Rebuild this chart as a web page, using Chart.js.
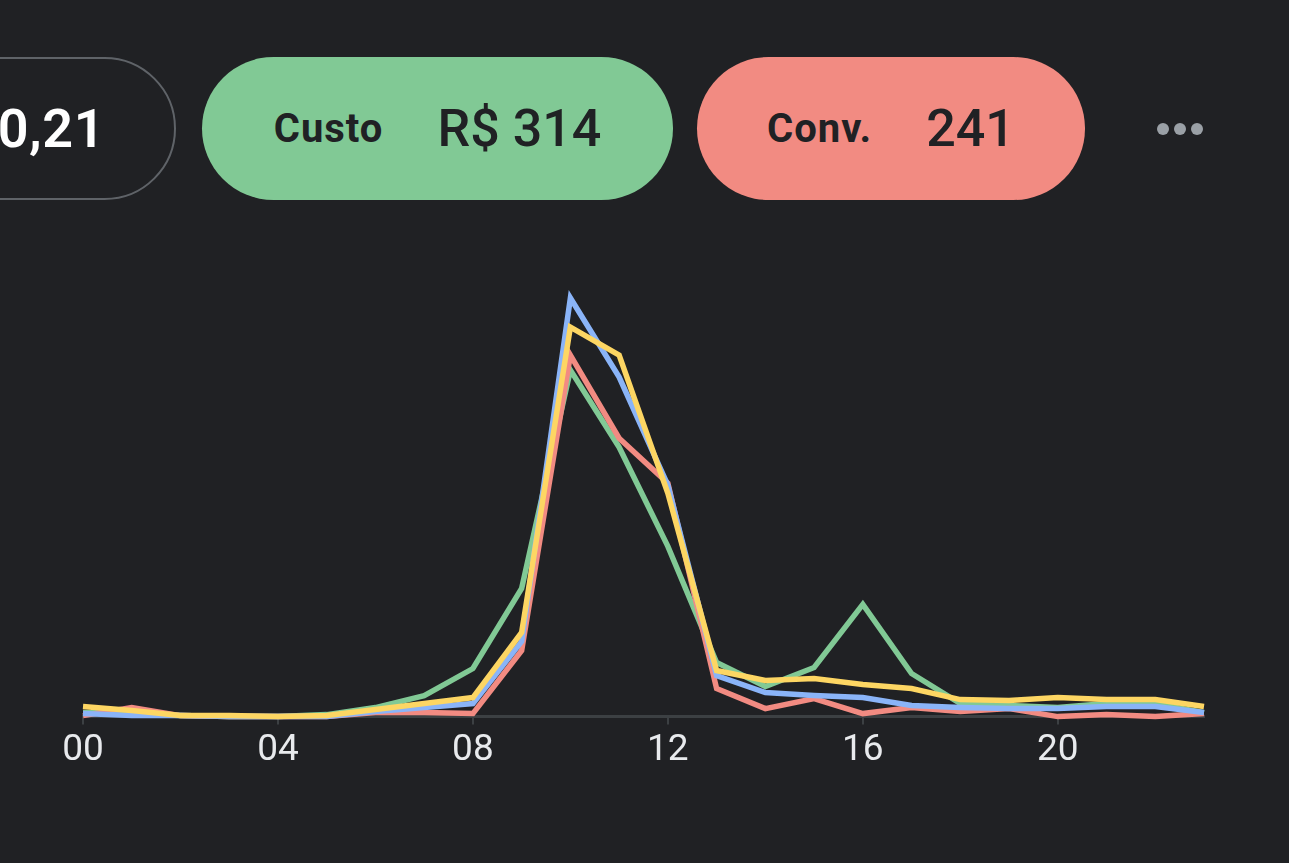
<!DOCTYPE html>
<html>
<head>
<meta charset="utf-8">
<script src="https://cdn.jsdelivr.net/npm/chart.js@4.4.1/dist/chart.umd.min.js"></script>
<style>
  html, body { margin: 0; padding: 0; background: #202124; width: 1289px; height: 863px; overflow: hidden; font-family: Roboto, "Noto Sans", sans-serif; }
  .pill { position: absolute; top: 57px; height: 143px; border-radius: 72px; box-sizing: border-box; display: flex; align-items: center; justify-content: center; gap: 54px; color: #202124; }
  .pill .lbl { font-size: 40px; font-weight: 700; letter-spacing: 1px; }
  .pill .val { font-size: 52px; font-weight: 500; }
  #p0 { left: -300px; width: 476px; border: 2px solid #5f6368; justify-content: flex-end; padding-right: 69px; color: #ffffff; }
  #p0 .val { font-weight: 600; font-size: 54px; letter-spacing: 0.5px; }
  #p1 { left: 202px; width: 471px; background: #81c995; }
  #p2 { left: 697px; width: 388px; background: #f28b82; }
  #more { position: absolute; left: 1157px; top: 123px; display: flex; gap: 5px; }
  #more span { width: 12px; height: 12px; border-radius: 6px; background: #9aa0a6; display: block; }
  #wrap { position: absolute; left: 0; top: 260px; width: 1289px; height: 540px; }
</style>
</head>
<body>
<div class="pill" id="p0"><span class="val">0,21</span></div>
<div class="pill" id="p1"><span class="lbl">Custo</span><span class="val">R$ 314</span></div>
<div class="pill" id="p2"><span class="lbl">Conv.</span><span class="val">241</span></div>
<div id="more"><span></span><span></span><span></span></div>
<div id="wrap"><canvas id="chart"></canvas></div>
<script>
// 時間帯ごとの値
const hours = ['00','01','02','03','04','05','06','07','08','09','10','11','12','13','14','15','16','17','18','19','20','21','22','23'];
const greenValues  = [4, 3, 1, 0, 0, 2, 9, 21, 48, 128, 346, 269, 170, 54, 30, 49, 112, 43, 13, 11, 9, 13, 13, 4];
const redValues    = [1, 9, 1, 0, 0, 0, 4, 4, 3, 66, 361, 278, 233, 28, 8, 18, 3, 9, 5, 8, 0, 2, 0, 3];
const blueValues   = [3, 1, 1, 0, 0, 0, 5, 9, 13, 75, 418, 339, 231, 41, 24, 21, 19, 11, 9, 8, 8, 10, 10, 4];
const yellowValues = [10, 6, 1, 1, 0, 1, 7, 13, 19, 84, 389, 361, 223, 46, 36, 38, 32, 28, 17, 16, 19, 17, 17, 10];
const tickEvery = 4;

const green = '#81c995', red = '#f28b82', blue = '#8ab4f8', yellow = '#fdd663';

function line(values, color, order){
    return {
        data: values,
        borderColor: color,
        backgroundColor: color,
        borderWidth: 5.5,
        pointRadius: 0,
        tension: 0,
        clip: false,
        order: order,       // 小さいほど上に描かれる
    };
}

new Chart(document.getElementById('chart'), {
    type: 'line',
    data: {
        labels: hours,
        datasets: [
            line(greenValues, green, 4),
            line(redValues, red, 3),
            line(blueValues, blue, 2),
            line(yellowValues, yellow, 1),
        ],
    },
    options: {
        responsive: true,
        maintainAspectRatio: false,
        animation: false,
        events: [],
        layout: { padding: { left: 83, right: 85, top: 36, bottom: 23 } },
        plugins: { legend: { display: false }, tooltip: { enabled: false } },
        scales: {
            x: {
                grid: { display: true, drawOnChartArea: false, drawTicks: true, tickLength: 8, color: '#3c4043', lineWidth: 2 },
                border: { display: true, color: '#3c4043', width: 3 },
                ticks: {
                    autoSkip: false,
                    maxRotation: 0,
                    color: '#e8eaed',
                    font: { family: 'Roboto', size: 37 },
                    padding: 4,
                    callback: function(value, index){
                        return index % tickEvery === 0 ? hours[index] : null;   //4時間ごとにラベル
                    },
                },
            },
            y: {
                display: false,
                min: 0,
                max: 420,
            },
        },
    },
});
</script>
</body>
</html>
